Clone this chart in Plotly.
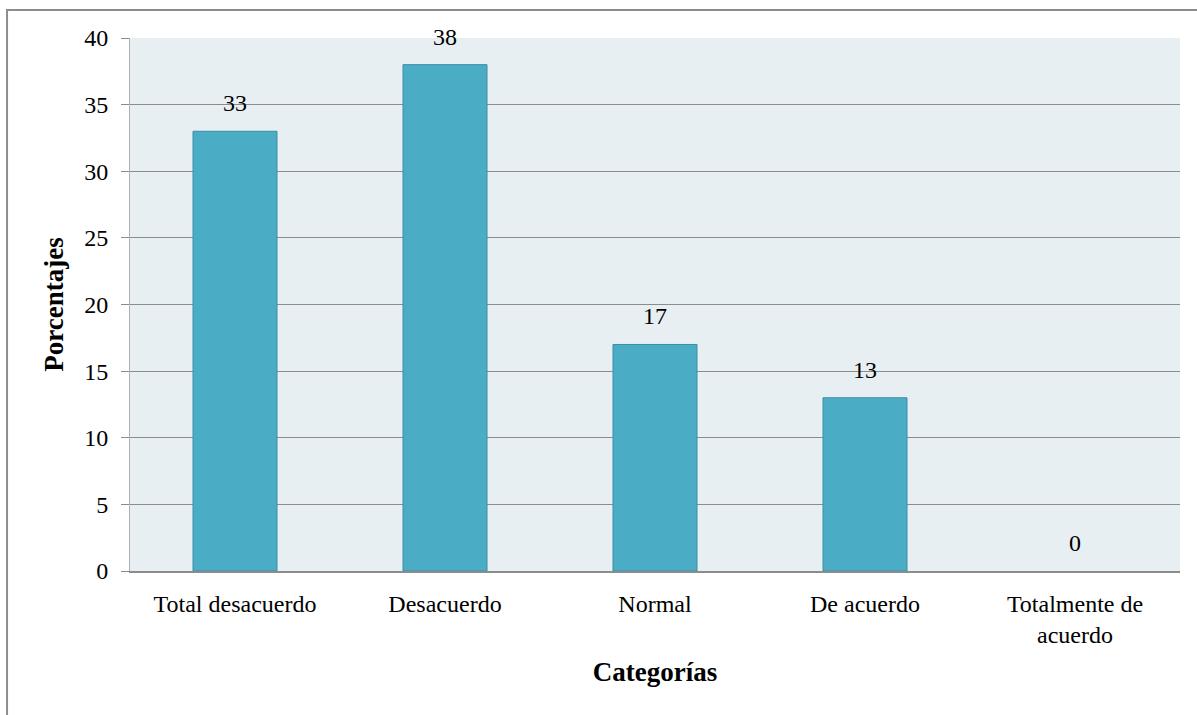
import plotly.graph_objects as go

categorias = ["Total desacuerdo", "Desacuerdo", "Normal", "De acuerdo", "Totalmente de<br>acuerdo"]
porcentajes = [33, 38, 17, 13, 0]
y_ticks = [0, 5, 10, 15, 20, 25, 30, 35, 40]

FONT = "Liberation Serif"
GRID = "#8c8c8c"

fig = go.Figure()
fig.add_trace(go.Bar(
    x=categorias,
    y=porcentajes,
    width=0.4,
    marker=dict(
        color="#4bacc6",
        line=dict(color="#3b8ea5", width=[1 if v > 0 else 0 for v in porcentajes]),
    ),
    hoverinfo="x+y",
))

# value labels above each bar
for cat, val in zip(categorias, porcentajes):
    fig.add_annotation(
        x=cat, y=val, text=str(val), showarrow=False,
        yshift=28, font=dict(family=FONT, size=24, color="#000000"),
    )

# outer frame of the chart area
fig.add_shape(
    type="rect", xref="paper", yref="paper",
    x0=-0.1171, y0=-0.30, x1=1.10, y1=1.0525,
    line=dict(color="#8c8c8c", width=2), fillcolor="rgba(0,0,0,0)",
    layer="below",
)

fig.update_layout(
    width=1197, height=715,
    margin=dict(l=130, r=17, t=38, b=144),
    paper_bgcolor="#ffffff",
    plot_bgcolor="#e8eff3",
    showlegend=False,
    font=dict(family=FONT, size=24, color="#000000"),
    xaxis=dict(
        showgrid=False,
        showline=True, linecolor=GRID, linewidth=2,
        ticks="", ticklabelstandoff=10,
        tickfont=dict(family=FONT, size=24, color="#000000"),
        title=dict(text="<b>Categorías</b>", font=dict(family=FONT, size=27), standoff=15),
    ),
    yaxis=dict(
        range=[0, 40],
        tickvals=y_ticks,
        showgrid=True, gridcolor=GRID, gridwidth=1,
        showline=True, linecolor="#b0b0b0", linewidth=1,
        ticks="outside", ticklen=8, tickcolor=GRID,
        ticklabelstandoff=8,
        zeroline=False,
        tickfont=dict(family=FONT, size=24, color="#000000"),
        title=dict(text="<b>Porcentajes</b>", font=dict(family=FONT, size=27), standoff=12),
    ),
)

fig.write_html("out.html")
